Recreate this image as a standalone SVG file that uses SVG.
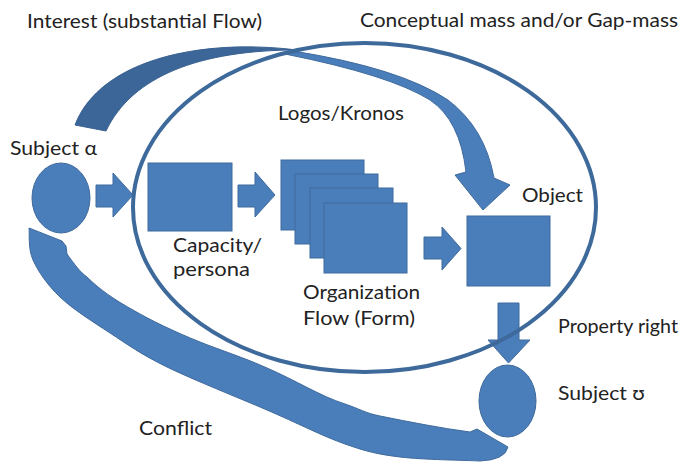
<svg xmlns="http://www.w3.org/2000/svg" width="690" height="465" viewBox="0 0 690 465">
<style>
.shape{fill:#4a7ebb;stroke:#3f6a9c;stroke-width:1}
.dark{fill:#3d6698;stroke:#3a6293;stroke-width:1}
.ring{fill:none;stroke:#3e6a9b;stroke-width:4}
.lbl{font-family:Lato,"Liberation Sans","DejaVu Sans",sans-serif;font-size:19px;fill:#222}
</style>
<rect width="690" height="465" fill="#fff"/>
<g id="connectors">
  <path id="interest-back" class="dark" d="M 75 125 C 100 60, 200 38, 297 50 C 200 50, 132 76, 106 131 Z"/>
  <path id="interest-front" class="shape" d="M 293 51 Q 400 68 448 100 Q 485 128 494 178 L 510 185 L 483 210 L 455 175 L 466 172 Q 460 120 430 100 Q 390 75 285 54 Z"/>
  <path id="conflict" class="shape" d="M 29 228 L 62 241 L 66 246 L 67 254 C 75 265, 80 272, 87 277 C 100 290, 115 300, 133 310 C 150 320, 175 332, 200 342 C 220 350, 245 358, 267 368 C 295 380, 320 396, 345 404 C 360 409, 365 413, 380 416 C 410 422, 440 428, 470 432 L 477 429 L 508 447 Q 505 460, 480 461 C 466.7 460.3, 422.5 459.8, 400 457 C 377.5 454.2, 367.2 451.8, 345 444 C 322.8 436.2, 296.7 422.8, 267 410 C 237.3 397.2, 193.2 379.8, 167 367 C 140.8 354.2, 127.8 344.7, 110 333 C 92.2 321.3, 72.8 309.2, 60 297 C 47.2 284.8, 38.2 271.5, 33 260 C 27.8 248.5, 29.7 233.3, 29 228 Z"/>
  <polygon id="arrow1" class="shape" points="96,185 113,185 113,173 133,195 113,217 113,207 96,207"/>
  <polygon id="arrow2" class="shape" points="238,185 255,185 255,172 275,195 255,217 255,207 238,207"/>
  <polygon id="arrow3" class="shape" points="424,237 442,237 442,227 461,248.5 442,270 442,259 424,259"/>
  <polygon id="arrow-property" class="shape" points="498,303 519,303 519,340 530,340 508.5,363 488,340 498,340"/>
</g>
<g id="conceptual-mass">
  <ellipse class="ring" cx="364.5" cy="207.5" rx="231.5" ry="164.5"/>
</g>
<g id="subject-alpha">
  <ellipse class="shape" cx="61" cy="198" rx="29" ry="35"/>
  <text class="lbl" x="10" y="155" textLength="87" lengthAdjust="spacingAndGlyphs">Subject α</text>
</g>
<g id="capacity">
  <rect class="shape" x="148" y="163" width="84" height="68"/>
  <text class="lbl" x="173" y="252" textLength="89" lengthAdjust="spacingAndGlyphs">Capacity/</text>
  <text class="lbl" x="173" y="276" textLength="77" lengthAdjust="spacingAndGlyphs">persona</text>
</g>
<g id="organization">
  <rect class="shape" x="281" y="160" width="83" height="70"/>
  <rect class="shape" x="295" y="174" width="83" height="70"/>
  <rect class="shape" x="310" y="188" width="83" height="70"/>
  <rect class="shape" x="324" y="203" width="83" height="70"/>
  <text class="lbl" x="303" y="299" textLength="117" lengthAdjust="spacingAndGlyphs">Organization</text>
  <text class="lbl" x="303" y="325" textLength="112" lengthAdjust="spacingAndGlyphs">Flow (Form)</text>
</g>
<g id="object">
  <rect class="shape" x="467" y="216" width="83" height="70"/>
  <text class="lbl" x="522" y="202" textLength="61" lengthAdjust="spacingAndGlyphs">Object</text>
</g>
<g id="subject-upsilon">
  <ellipse class="shape" cx="507.5" cy="401" rx="28.5" ry="36"/>
  <text class="lbl" x="558" y="400" textLength="87" lengthAdjust="spacingAndGlyphs">Subject ʊ</text>
</g>
<g id="labels">
  <text class="lbl" x="27" y="28" textLength="235" lengthAdjust="spacingAndGlyphs">Interest (substantial Flow)</text>
  <text class="lbl" x="360" y="27" textLength="318" lengthAdjust="spacingAndGlyphs">Conceptual mass and/or Gap-mass</text>
  <text class="lbl" x="278" y="120" textLength="126" lengthAdjust="spacingAndGlyphs">Logos/Kronos</text>
  <text class="lbl" x="558" y="333" textLength="120" lengthAdjust="spacingAndGlyphs">Property right</text>
  <text class="lbl" x="139" y="435" textLength="73" lengthAdjust="spacingAndGlyphs">Conflict</text>
</g>
</svg>
